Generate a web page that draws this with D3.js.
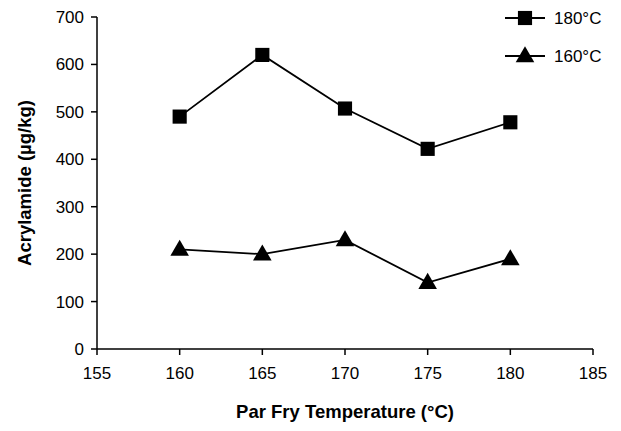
<!DOCTYPE html><html><head><script src="https://d3js.org/d3.v7.min.js"></script>
<style>body{margin:0;background:#fff}text{font-family:Arial,"Liberation Sans",sans-serif}</style></head><body>
<svg id="c" width="621" height="431"></svg>
<script>
const temps=[160,165,170,175,180];
const s180=[490,620,507,422,478];
const s160=[210,200,230,140,190];
const xTicks=[155,160,165,170,175,180,185];
const yTicks=[0,100,200,300,400,500,600,700];
const svg=d3.select("#c");
const x=d3.scaleLinear().domain([155,185]).range([97,593]);
const y=d3.scaleLinear().domain([0,700]).range([349,17]);
const g=svg.append("g");
g.append("line").attr("x1",97).attr("x2",97).attr("y1",17).attr("y2",349).attr("stroke","#000").attr("stroke-width",1.5);
g.append("line").attr("x1",97).attr("x2",593).attr("y1",349).attr("y2",349).attr("stroke","#000").attr("stroke-width",1.5);
yTicks.forEach(t=>{g.append("line").attr("x1",91).attr("x2",97).attr("y1",y(t)).attr("y2",y(t)).attr("stroke","#000").attr("stroke-width",1.5);
g.append("text").attr("x",84).attr("y",y(t)+6).attr("text-anchor","end").attr("font-size",17).text(t);});
xTicks.forEach(t=>{g.append("line").attr("x1",x(t)).attr("x2",x(t)).attr("y1",349).attr("y2",355).attr("stroke","#000").attr("stroke-width",1.5);
g.append("text").attr("x",x(t)).attr("y",379).attr("text-anchor","middle").attr("font-size",17).text(t);});
g.append("text").attr("x",345).attr("y",418).attr("text-anchor","middle").attr("font-size",18.5).attr("font-weight","bold").text("Par Fry Temperature (°C)");
g.append("text").attr("transform","translate(31,183) rotate(-90)").attr("text-anchor","middle").attr("font-size",18.5).attr("font-weight","bold").text("Acrylamide (µg/kg)");
const line=d3.line().x((d,i)=>x(temps[i])).y(d=>y(d));
g.append("path").attr("d",line(s180)).attr("fill","none").attr("stroke","#000").attr("stroke-width",1.8);
g.append("path").attr("d",line(s160)).attr("fill","none").attr("stroke","#000").attr("stroke-width",1.8);
const sq=d3.symbol(d3.symbolSquare,200), tr=d3.symbol(d3.symbolTriangle,150);
s180.forEach((d,i)=>g.append("path").attr("d",sq()).attr("transform",`translate(${x(temps[i])},${y(d)})`));
s160.forEach((d,i)=>g.append("path").attr("d",tr()).attr("transform",`translate(${x(temps[i])},${y(d)+1})`));
g.append("line").attr("x1",505).attr("x2",545).attr("y1",18).attr("y2",18).attr("stroke","#000").attr("stroke-width",1.8);
g.append("path").attr("d",sq()).attr("transform","translate(525,18)");
g.append("text").attr("x",554).attr("y",24).attr("font-size",17).text("180°C");
g.append("line").attr("x1",505).attr("x2",545).attr("y1",56).attr("y2",56).attr("stroke","#000").attr("stroke-width",1.8);
g.append("path").attr("d",tr()).attr("transform","translate(525,57)");
g.append("text").attr("x",554).attr("y",62).attr("font-size",17).text("160°C");
</script></body></html>
